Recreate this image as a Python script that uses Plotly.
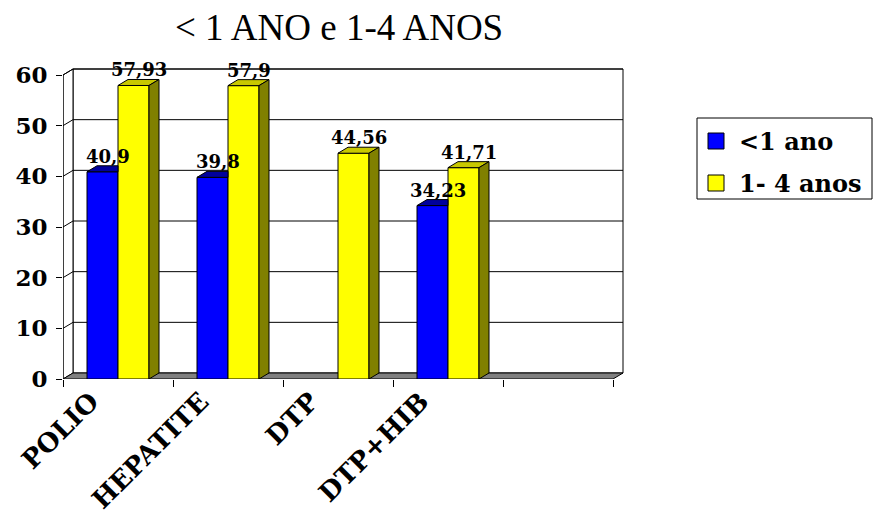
import plotly.graph_objects as go

# ---- data ----
categories = ["POLIO", "HEPATITE", "DTP", "DTP+HIB", ""]
under_1 = [40.9, 39.8, None, 34.23, None]
age_1_4 = [57.93, 57.9, 44.56, 41.71, None]
series_names = ["<1 ano", "1- 4 anos"]
y_ticks = [0, 10, 20, 30, 40, 50, 60]
title_text = "< 1 ANO e 1-4 ANOS"

# ---- geometry of the pseudo-3D frame ----
W_PX, H_PX = 874, 518
M_L, M_T, M_R, M_B = 63, 60, 249, 139
PX_PER_CAT = 110.0
PX_PER_UNIT = 304.0 / 60.0
plot_w = W_PX - M_L - M_R
plot_h = H_PX - M_T - M_B
X0 = -0.5
X1 = len(categories) - 0.5
x_range = [X0, X0 + plot_w / PX_PER_CAT]
y_range = [0, plot_h / PX_PER_UNIT]
DX = 10 / PX_PER_CAT          # depth offset (horizontal)
DY = 6 / PX_PER_UNIT          # depth offset (vertical)
BAR_W = 31 / PX_PER_CAT
Y_TOP = max(y_ticks)

FONT = "Liberation Serif"
BFONT = "DejaVu Serif"
BLUE, BLUE_TOP = "#0000FF", "#00009C"
YEL, YEL_TOP, YEL_SIDE = "#FFFF00", "#C8C800", "#808000"

xs = list(range(len(categories)))
shapes = []
annotations = []


def bold(s):
    return f"<b>{s}</b>"


def px_x(px):
    return (px - M_L) / plot_w


def px_y(py):
    return (H_PX - M_B - py) / plot_h


def poly(points, fill, layer="above"):
    path = "M " + " L ".join(f"{x},{y}" for x, y in points) + " Z"
    shapes.append(dict(type="path", path=path, xref="x", yref="y",
                       fillcolor=fill, line=dict(color="black", width=1),
                       layer=layer))


def seg(x0, y0, x1, y1, color="black", layer="below"):
    shapes.append(dict(type="line", x0=x0, y0=y0, x1=x1, y1=y1,
                       xref="x", yref="y", line=dict(color=color, width=1),
                       layer=layer))


# back wall, left wall, floor
poly([(X0 + DX, DY), (X1 + DX, DY), (X1 + DX, Y_TOP + DY), (X0 + DX, Y_TOP + DY)],
     "white", "below")
poly([(X0, 0), (X0, Y_TOP), (X0 + DX, Y_TOP + DY), (X0 + DX, DY)], "white", "below")
for v in y_ticks[1:]:
    seg(X0 + DX, v + DY, X1 + DX, v + DY)
    seg(X0, v, X0 + DX, v + DY)
poly([(X0, 0), (X1, 0), (X1 + DX, DY), (X0 + DX, DY)], "#808080", "below")
seg(X0, 0, X0, Y_TOP, layer="above")


def fmt(v):
    return f"{v:g}".replace(".", ",")


fig = go.Figure()
series = [(series_names[0], under_1, -BAR_W, BLUE, BLUE_TOP, None),
          (series_names[1], age_1_4, 0.0, YEL, YEL_TOP, YEL_SIDE)]
for i, (name, vals, off, front, top, side) in enumerate(series):
    fig.add_trace(go.Bar(
        x=xs, y=vals, name=name, offset=off, width=BAR_W,
        marker=dict(color=front, line=dict(color="black", width=1)),
        showlegend=False, hoverinfo="skip",
    ))
    for x, v in zip(xs, vals):
        if v is None:
            continue
        xl, xr = x + off, x + off + BAR_W
        if side is None:
            # top face partly hidden behind the neighbouring bar
            poly([(xl, v), (xr, v), (xr, v + DY), (xl + DX, v + DY)], top)
        else:
            poly([(xl, v), (xr, v), (xr + DX, v + DY), (xl + DX, v + DY)], top)
            poly([(xr, 0), (xr, v), (xr + DX, v + DY), (xr + DX, DY)], side)
        annotations.append(dict(
            x=(xl + xr) / 2 + DX / 2, y=v + DY, xref="x", yref="y",
            text=bold(fmt(v)), showarrow=False, yanchor="bottom",
            yshift=-3, font=dict(family=BFONT, size=18, color="black"),
        ))

# legend box drawn in paper space
shapes.append(dict(type="rect", xref="paper", yref="paper",
                   x0=px_x(697), x1=px_x(872), y0=px_y(199), y1=px_y(118),
                   fillcolor="white", line=dict(color="black", width=1),
                   layer="above"))
for k, (name, color) in enumerate(zip(series_names, [BLUE, YEL])):
    cy = 141 + 42 * k
    shapes.append(dict(type="rect", xref="paper", yref="paper",
                       x0=px_x(708), x1=px_x(724), y0=px_y(cy + 8), y1=px_y(cy - 8),
                       fillcolor=color, line=dict(color="black", width=1),
                       layer="above"))
    annotations.append(dict(
        x=px_x(737), y=px_y(cy), xref="paper", yref="paper",
        text=bold(name), showarrow=False, xanchor="left", yanchor="middle",
        font=dict(family=BFONT, size=24, color="black"),
    ))

# chart title
annotations.append(dict(
    x=px_x(339), y=px_y(28), xref="paper", yref="paper",
    text=title_text, showarrow=False, xanchor="center", yanchor="middle",
    font=dict(family=FONT, size=37, color="black"),
))

fig.update_layout(
    width=W_PX, height=H_PX,
    margin=dict(l=M_L, r=M_R, t=M_T, b=M_B, pad=0),
    paper_bgcolor="white", plot_bgcolor="rgba(0,0,0,0)",
    barmode="overlay",
    shapes=shapes, annotations=annotations,
    showlegend=False,
    xaxis=dict(
        range=x_range, tickmode="array", tickvals=xs[:-1],
        ticktext=[bold(c) for c in categories[:-1]], ticks="", tickangle=-45,
        ticklabelshift=-27, ticklabelstandoff=1, automargin=False,
        tickfont=dict(family=BFONT, size=26, color="black"),
        showgrid=False, zeroline=False, showline=False, fixedrange=True,
        minor=dict(tickmode="array",
                   tickvals=[X0 + k for k in range(len(categories) + 1)],
                   ticks="outside", ticklen=7, tickcolor="black", tickwidth=1),
    ),
    yaxis=dict(
        range=y_range, tickmode="array", tickvals=y_ticks,
        ticktext=[bold(t) for t in y_ticks],
        ticks="outside", ticklen=6, tickcolor="black",
        ticklabelstandoff=4, automargin=False,
        tickfont=dict(family=BFONT, size=23, color="black"),
        showgrid=False, zeroline=False, showline=False, fixedrange=True,
    ),
)

fig.write_html("out.html")
